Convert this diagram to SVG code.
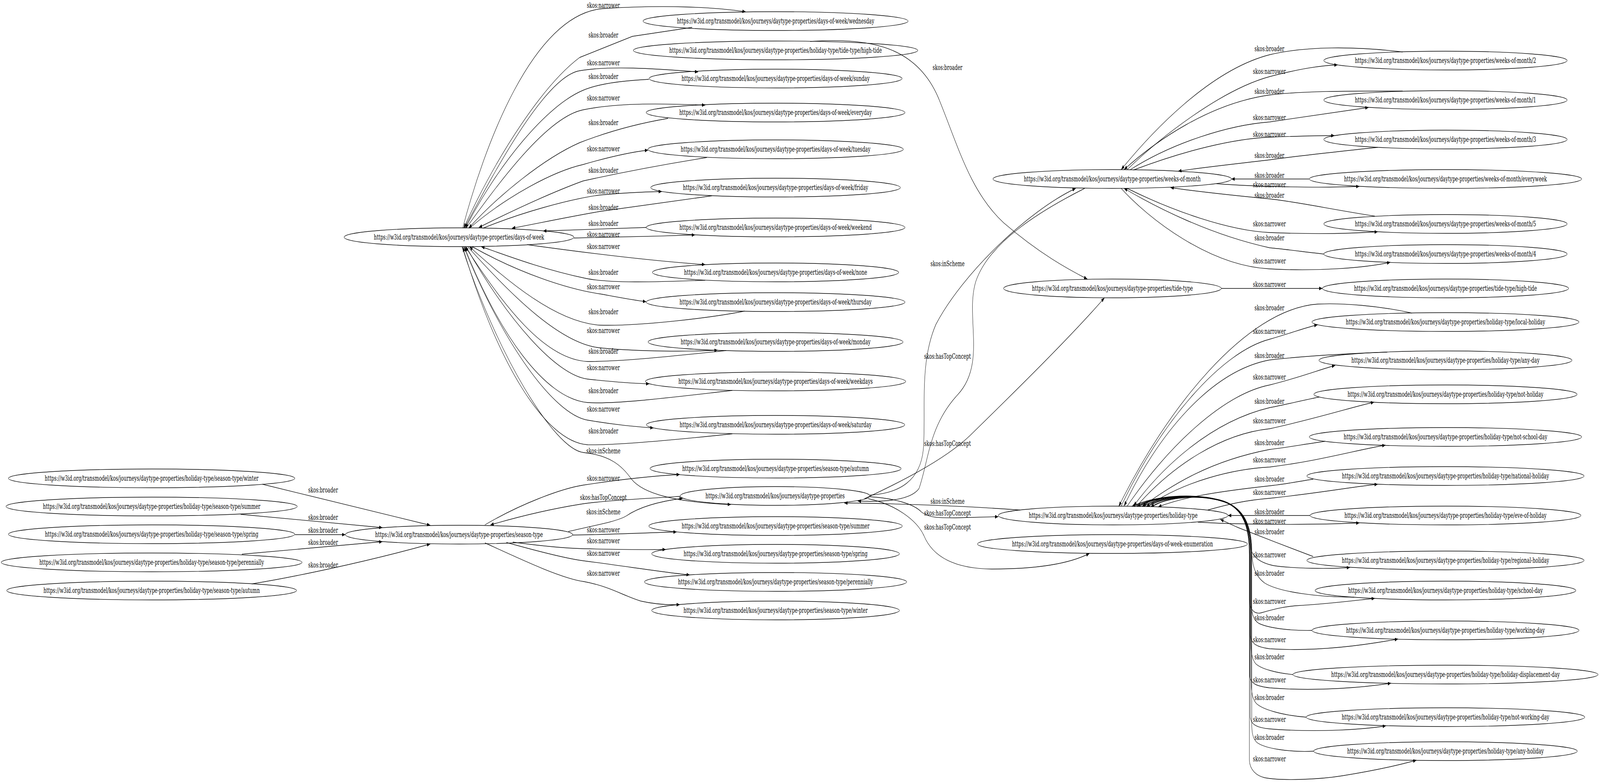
<svg xmlns="http://www.w3.org/2000/svg" width="6616" height="2006" viewBox="0 0 6616 2006" preserveAspectRatio="none" style="width:100%;height:100%">
<style>
.node ellipse{fill:none;stroke:#000;stroke-width:1.33}
text{font-family:"DejaVu Serif","Liberation Serif",serif;font-size:18.67px;text-anchor:middle;fill:#000}
#edges path{fill:none;stroke:#000;stroke-width:1.33;marker-end:url(#arr)}
</style>
<defs>
<marker id="arr" markerUnits="userSpaceOnUse" markerWidth="14" markerHeight="10" refX="13.3" refY="4.67" orient="auto"><path d="M0,0 L13.3,4.67 L0,9.33 z" fill="#000"/></marker>
</defs>
<rect width="6616" height="2006" fill="#fff"/>

<g id="edges">
<!-- season-type children -> season-type -->
<path d="M1085,1239 L1779,1344"/>
<path d="M995,1316 L1581,1350"/>
<path d="M1220,1368 L1428,1368"/>
<path d="M1000,1418 L1581,1386"/>
<path d="M1041,1494 C1200,1478 1500,1440 1779,1392"/>
<text x="1336" y="1260">skos:broader</text>
<text x="1336" y="1330">skos:broader</text>
<text x="1336" y="1363">skos:broader</text>
<text x="1336" y="1394">skos:broader</text>
<text x="1336" y="1452">skos:broader</text>

<!-- days-of-week <-> children -->
<path d="M1913,584 C2000,380 2200,35 2495,22 C2750,12 2950,18 3083,30"/>
<path d="M2862,70 L2615,93 L2397,147 C2250,215 2060,390 1917,584"/>
<path d="M1920,584 C2060,420 2260,195 2397,181 C2520,168 2700,175 2887,184"/>
<path d="M2683,203 C2550,207 2460,218 2411,231 C2260,270 2060,420 1924,584"/>
<path d="M1927,584 C2060,470 2260,300 2411,281 C2560,262 2750,265 2916,269"/>
<path d="M2762,303 C2600,320 2480,345 2397,365 C2250,405 2060,500 1938,584"/>
<path d="M1941,584 C2100,500 2290,438 2411,421 C2500,405 2600,390 2680,384"/>
<path d="M2923,403 C2700,425 2520,448 2411,463 C2270,495 2100,545 1980,582"/>
<path d="M1997,584 C2150,545 2350,510 2481,499 C2580,493 2660,491 2737,490"/>
<path d="M2944,501 C2750,518 2580,533 2481,541 C2350,555 2220,572 2117,584"/>
<path d="M2673,582 L2246,591"/>
<path d="M2373,609 C2500,608 2700,605 2874,601"/>
<path d="M2180,626 C2400,645 2700,668 2916,677"/>
<path d="M2916,717 C2700,722 2520,725 2420,712 C2250,690 2100,655 1990,631"/>
<path d="M1952,631 C2150,700 2350,740 2481,752 C2570,762 2620,768 2672,772"/>
<path d="M3079,796 C2950,812 2650,835 2481,832 C2300,825 2100,720 1941,631"/>
<path d="M1934,631 C2120,760 2320,880 2481,890 C2650,900 2850,900 2967,896"/>
<path d="M3003,897 C2800,910 2580,925 2430,925 C2250,920 2080,780 1924,631"/>
<path d="M1927,631 C2100,820 2300,960 2430,970 C2550,978 2620,981 2685,982"/>
<path d="M3028,999 C2800,1015 2550,1035 2430,1030 C2250,1020 2060,850 1920,631"/>
<path d="M1917,631 C2080,880 2290,1060 2430,1075 C2550,1088 2640,1092 2702,1095"/>
<path d="M3028,1110 C2800,1125 2550,1140 2430,1138 C2250,1130 2050,920 1913,631"/>
<path d="M1910,631 C2050,900 2290,1150 2414,1158 C2520,1165 2570,1190 2610,1225 C2660,1265 2800,1285 3022,1291"/>
<text x="2495" y="20">skos:narrower</text>
<text x="2495" y="96">skos:broader</text>
<text x="2495" y="167">skos:narrower</text>
<text x="2495" y="202">skos:broader</text>
<text x="2495" y="257">skos:narrower</text>
<text x="2495" y="320">skos:broader</text>
<text x="2495" y="387">skos:narrower</text>
<text x="2495" y="442">skos:broader</text>
<text x="2495" y="495">skos:narrower</text>
<text x="2495" y="537">skos:broader</text>
<text x="2495" y="578">skos:broader</text>
<text x="2495" y="606">skos:narrower</text>
<text x="2495" y="637">skos:narrower</text>
<text x="2495" y="703">skos:broader</text>
<text x="2495" y="740">skos:narrower</text>
<text x="2495" y="804">skos:broader</text>
<text x="2495" y="852">skos:narrower</text>
<text x="2495" y="905">skos:broader</text>
<text x="2495" y="947">skos:narrower</text>
<text x="2495" y="1006">skos:broader</text>
<text x="2495" y="1053">skos:narrower</text>
<text x="2495" y="1109">skos:broader</text>
<text x="2495" y="1160">skos:inScheme</text>

<!-- season-type edges -->
<path d="M2005,1343 C2150,1290 2320,1250 2414,1241 C2550,1228 2700,1218 2811,1214"/>
<path d="M2813,1270 C2650,1276 2480,1282 2401,1290 C2250,1305 2100,1330 2028,1343"/>
<path d="M2350,1360 C2450,1345 2550,1335 2590,1320 C2630,1303 2700,1285 2823,1275"/>
<path d="M2367,1369 C2500,1368 2650,1364 2798,1361"/>
<path d="M2120,1387 C2250,1398 2350,1403 2414,1404 C2550,1406 2650,1407 2753,1406"/>
<path d="M2094,1388 C2250,1415 2350,1430 2414,1435 C2600,1450 2750,1465 2852,1471"/>
<path d="M2005,1389 C2150,1430 2320,1480 2414,1488 C2520,1500 2580,1525 2650,1538 C2700,1545 2760,1548 2811,1547"/>
<text x="2495" y="1230">skos:narrower</text>
<text x="2495" y="1279">skos:hasTopConcept</text>
<text x="2495" y="1316">skos:inScheme</text>
<text x="2495" y="1362">skos:narrower</text>
<text x="2495" y="1390">skos:narrower</text>
<text x="2495" y="1422">skos:narrower</text>
<text x="2495" y="1473">skos:narrower</text>

<!-- properties / column C-D -->
<path d="M3350,106 C3600,95 3790,120 3880,250 C3960,370 4010,490 4150,570 C4300,650 4420,690 4496,714"/>
<path d="M3597,1267 C3720,1262 3805,1230 3818,1150 C3830,1050 3800,930 3870,830 C3980,700 4250,540 4448,482"/>
<path d="M4485,482 C4300,540 4090,620 4035,720 C3990,810 4080,930 3960,1010 C3840,1090 3840,1180 3800,1250 C3760,1285 3620,1284 3547,1282"/>
<path d="M3575,1276 C3700,1240 3900,1180 4010,1115 C4200,1000 4430,860 4567,762"/>
<path d="M4218,1305 C4000,1295 3700,1288 3491,1287"/>
<path d="M3597,1271 C3700,1275 3780,1290 3810,1310 C3840,1325 3880,1325 3950,1325 L4128,1322"/>
<path d="M3590,1276 C3700,1290 3790,1330 3820,1370 C3860,1430 3960,1455 4100,1456 C4300,1456 4430,1440 4505,1416"/>
<text x="3918" y="179">skos:broader</text>
<text x="3918" y="681">skos:inScheme</text>
<text x="3918" y="918">skos:hasTopConcept</text>
<text x="3918" y="1141">skos:hasTopConcept</text>
<text x="3918" y="1289">skos:inScheme</text>
<text x="3918" y="1319">skos:hasTopConcept</text>
<text x="3918" y="1355">skos:hasTopConcept</text>

<!-- weeks-of-month <-> children -->
<path d="M5800,133 C5600,118 5400,118 5250,140 C5000,180 4760,340 4636,434"/>
<path d="M4661,434 C4800,350 5050,230 5250,196 C5380,175 5460,168 5531,166"/>
<path d="M5800,233 C5600,233 5400,232 5250,243 C5000,265 4780,360 4648,434"/>
<path d="M4674,434 C4850,365 5080,320 5250,312 C5420,297 5570,282 5659,275"/>
<path d="M4687,435 C4900,385 5100,355 5250,351 C5380,348 5460,347 5518,347"/>
<path d="M5697,377 C5500,390 5350,400 5250,409 C5100,420 4950,430 4872,438"/>
<path d="M5413,458 L5092,458"/>
<path d="M5030,470 C5200,478 5450,481 5621,477"/>
<path d="M5685,553 C5500,535 5350,515 5250,509 C5100,500 4950,490 4840,480"/>
<path d="M4661,482 C4850,540 5080,590 5250,595 C5450,600 5600,597 5697,593"/>
<path d="M5474,650 C5400,645 5320,638 5250,634 C5000,600 4780,530 4648,482"/>
<path d="M4636,482 C4750,560 5000,680 5250,688 C5450,695 5650,685 5749,671"/>
<path d="M5050,738 L5468,738"/>
<text x="5249" y="131">skos:broader</text>
<text x="5249" y="189">skos:narrower</text>
<text x="5249" y="240">skos:broader</text>
<text x="5249" y="307">skos:narrower</text>
<text x="5249" y="350">skos:narrower</text>
<text x="5249" y="404">skos:broader</text>
<text x="5249" y="455">skos:broader</text>
<text x="5249" y="479">skos:narrower</text>
<text x="5249" y="506">skos:broader</text>
<text x="5249" y="579">skos:narrower</text>
<text x="5249" y="615">skos:broader</text>
<text x="5249" y="674">skos:narrower</text>
<text x="5249" y="734">skos:narrower</text>

<!-- holiday-type <-> children (upper) -->
<path d="M5838,801 C5700,782 5550,775 5450,778 C5150,790 4820,1050 4626,1296"/>
<path d="M4636,1295 C4800,1080 5050,900 5250,868 C5350,850 5400,838 5448,831"/>
<path d="M5736,901 C5550,905 5380,912 5250,921 C5000,950 4780,1120 4648,1295"/>
<path d="M4661,1295 C4820,1150 5050,1010 5250,985 C5380,965 5460,945 5521,935"/>
<path d="M5454,1016 C5380,1025 5320,1035 5250,1043 C5000,1080 4800,1200 4687,1295"/>
<path d="M4700,1295 C4850,1190 5050,1110 5250,1097 C5450,1070 5600,1040 5682,1029"/>
<path d="M5480,1129 C5380,1138 5320,1145 5250,1150 C5000,1180 4850,1240 4725,1295"/>
<path d="M4745,1295 C4900,1230 5100,1200 5250,1195 C5450,1180 5620,1150 5729,1139"/>
<path d="M5430,1226 C5350,1234 5300,1240 5250,1243 C5000,1260 4880,1275 4789,1297"/>
<path d="M4994,1305 C5080,1290 5150,1280 5250,1275 C5450,1262 5600,1245 5697,1239"/>
<path d="M5417,1319 L5078,1319"/>
<path d="M4953,1336 C5100,1342 5400,1344 5621,1338"/>
<!-- holiday-type <-> children (lower, bundled) -->
<path d="M5430,1424 C5350,1405 5200,1370 5120,1350 C5090,1342 5070,1336 5046,1329"/>
<path d="M4690,1296 C4750,1270 4940,1258 5060,1282 C5140,1300 5170,1345 5172,1400 C5174,1420 5200,1438 5264,1447 C5350,1455 5500,1456 5582,1452"/>
<path d="M5600,1528 C5450,1528 5290,1515 5230,1492 C5185,1472 5176,1440 5176,1405 C5174,1345 5145,1302 5065,1284 C4950,1260 4770,1268 4680,1296"/>
<path d="M4700,1296 C4760,1270 4950,1260 5062,1284 C5142,1302 5166,1350 5166,1420 L5166,1535 C5168,1562 5190,1572 5215,1568 C5260,1560 5300,1553 5356,1550 C5500,1545 5620,1535 5685,1531"/>
<path d="M5425,1613 C5340,1614 5250,1608 5205,1595 C5180,1585 5174,1565 5174,1540 L5174,1410 C5172,1345 5142,1303 5064,1284 C4950,1262 4790,1266 4702,1296"/>
<path d="M4712,1296 C4770,1270 4950,1260 5062,1284 C5142,1302 5170,1350 5170,1420 L5170,1625 C5172,1648 5200,1656 5250,1660 C5450,1668 5650,1650 5781,1635"/>
<path d="M5346,1726 C5280,1722 5215,1712 5192,1698 C5176,1686 5172,1665 5172,1640 L5172,1410 C5170,1345 5140,1302 5062,1283 C4950,1262 4800,1268 4722,1296"/>
<path d="M4730,1296 C4785,1272 4950,1262 5062,1284 C5142,1302 5168,1350 5168,1420 L5168,1730 C5170,1750 5200,1756 5250,1760 C5450,1770 5650,1758 5752,1748"/>
<path d="M5401,1835 C5300,1830 5220,1815 5195,1800 C5178,1788 5174,1770 5174,1745 L5174,1410 C5172,1345 5142,1303 5064,1284 C4960,1262 4820,1268 4740,1296"/>
<path d="M4750,1296 C4800,1272 4955,1262 5064,1284 C5144,1302 5170,1350 5170,1420 L5170,1835 C5172,1855 5200,1862 5250,1865 C5450,1875 5650,1866 5731,1857"/>
<path d="M5432,1922 C5330,1925 5230,1915 5198,1900 C5180,1890 5176,1875 5176,1850 L5176,1410 C5174,1345 5144,1303 5066,1284 C4960,1262 4830,1270 4758,1297"/>
<path d="M4765,1297 C4815,1273 4960,1263 5066,1285 C5146,1303 5166,1350 5166,1420 L5166,1945 C5168,1970 5195,1985 5230,1990 C5300,1998 5450,1995 5550,1985 C5700,1970 5800,1955 5857,1945"/>
<text x="5249" y="794">skos:broader</text>
<text x="5249" y="854">skos:narrower</text>
<text x="5249" y="916">skos:broader</text>
<text x="5249" y="971">skos:narrower</text>
<text x="5249" y="1033">skos:broader</text>
<text x="5249" y="1083">skos:narrower</text>
<text x="5249" y="1139">skos:broader</text>
<text x="5249" y="1183">skos:narrower</text>
<text x="5249" y="1232">skos:broader</text>
<text x="5249" y="1266">skos:narrower</text>
<text x="5249" y="1316">skos:broader</text>
<text x="5249" y="1340">skos:narrower</text>
<text x="5249" y="1367">skos:broader</text>
<text x="5249" y="1426">skos:narrower</text>
<text x="5249" y="1473">skos:broader</text>
<text x="5249" y="1545">skos:narrower</text>
<text x="5249" y="1587">skos:broader</text>
<text x="5249" y="1643">skos:narrower</text>
<text x="5249" y="1687">skos:broader</text>
<text x="5249" y="1746">skos:narrower</text>
<text x="5249" y="1791">skos:broader</text>
<text x="5249" y="1847">skos:narrower</text>
<text x="5249" y="1893">skos:broader</text>
<text x="5249" y="1948">skos:narrower</text>
</g>

<!-- column A -->
<g id="n-ht-season-winter" class="node"><ellipse cx="627" cy="1224" rx="592" ry="24"/><text x="627" y="1230">https://w3id.org/transmodel/kos/journeys/daytype-properties/holiday-type/season-type/winter</text></g>
<g id="n-ht-season-summer" class="node"><ellipse cx="627" cy="1296" rx="602" ry="24"/><text x="627" y="1302">https://w3id.org/transmodel/kos/journeys/daytype-properties/holiday-type/season-type/summer</text></g>
<g id="n-ht-season-spring" class="node"><ellipse cx="627" cy="1367" rx="592" ry="24"/><text x="627" y="1373">https://w3id.org/transmodel/kos/journeys/daytype-properties/holiday-type/season-type/spring</text></g>
<g id="n-ht-season-perennially" class="node"><ellipse cx="627" cy="1439" rx="622" ry="24"/><text x="627" y="1445">https://w3id.org/transmodel/kos/journeys/daytype-properties/holiday-type/season-type/perennially</text></g>
<g id="n-ht-season-autumn" class="node"><ellipse cx="627" cy="1511" rx="599" ry="24"/><text x="627" y="1517">https://w3id.org/transmodel/kos/journeys/daytype-properties/holiday-type/season-type/autumn</text></g>

<!-- column B -->
<g id="n-days-of-week" class="node"><ellipse cx="1898" cy="607" rx="475" ry="24"/><text x="1898" y="613">https://w3id.org/transmodel/kos/journeys/daytype-properties/days-of-week</text></g>
<g id="n-season-type" class="node"><ellipse cx="1898" cy="1368" rx="470" ry="24"/><text x="1898" y="1374">https://w3id.org/transmodel/kos/journeys/daytype-properties/season-type</text></g>

<!-- column C -->
<g id="n-dow-wednesday" class="node"><ellipse cx="3207" cy="54" rx="548" ry="24"/><text x="3207" y="60">https://w3id.org/transmodel/kos/journeys/daytype-properties/days-of-week/wednesday</text></g>
<g id="n-ht-tide-high-tide" class="node"><ellipse cx="3207" cy="129" rx="588" ry="24"/><text x="3207" y="135">https://w3id.org/transmodel/kos/journeys/daytype-properties/holiday-type/tide-type/high-tide</text></g>
<g id="n-dow-sunday" class="node"><ellipse cx="3207" cy="201" rx="523" ry="24"/><text x="3207" y="207">https://w3id.org/transmodel/kos/journeys/daytype-properties/days-of-week/sunday</text></g>
<g id="n-dow-everyday" class="node"><ellipse cx="3207" cy="288" rx="535" ry="24"/><text x="3207" y="294">https://w3id.org/transmodel/kos/journeys/daytype-properties/days-of-week/everyday</text></g>
<g id="n-dow-tuesday" class="node"><ellipse cx="3207" cy="382" rx="528" ry="24"/><text x="3207" y="388">https://w3id.org/transmodel/kos/journeys/daytype-properties/days-of-week/tuesday</text></g>
<g id="n-dow-friday" class="node"><ellipse cx="3207" cy="480" rx="516" ry="24"/><text x="3207" y="486">https://w3id.org/transmodel/kos/journeys/daytype-properties/days-of-week/friday</text></g>
<g id="n-dow-weekend" class="node"><ellipse cx="3207" cy="582" rx="535" ry="24"/><text x="3207" y="588">https://w3id.org/transmodel/kos/journeys/daytype-properties/days-of-week/weekend</text></g>
<g id="n-dow-none" class="node"><ellipse cx="3207" cy="697" rx="509" ry="24"/><text x="3207" y="703">https://w3id.org/transmodel/kos/journeys/daytype-properties/days-of-week/none</text></g>
<g id="n-dow-thursday" class="node"><ellipse cx="3207" cy="773" rx="535" ry="24"/><text x="3207" y="779">https://w3id.org/transmodel/kos/journeys/daytype-properties/days-of-week/thursday</text></g>
<g id="n-dow-monday" class="node"><ellipse cx="3207" cy="875" rx="527" ry="24"/><text x="3207" y="881">https://w3id.org/transmodel/kos/journeys/daytype-properties/days-of-week/monday</text></g>
<g id="n-dow-weekdays" class="node"><ellipse cx="3207" cy="976" rx="538" ry="24"/><text x="3207" y="982">https://w3id.org/transmodel/kos/journeys/daytype-properties/days-of-week/weekdays</text></g>
<g id="n-dow-saturday" class="node"><ellipse cx="3207" cy="1087" rx="534" ry="24"/><text x="3207" y="1093">https://w3id.org/transmodel/kos/journeys/daytype-properties/days-of-week/saturday</text></g>
<g id="n-season-autumn" class="node"><ellipse cx="3207" cy="1199" rx="519" ry="24"/><text x="3207" y="1205">https://w3id.org/transmodel/kos/journeys/daytype-properties/season-type/autumn</text></g>
<g id="n-properties" class="node"><ellipse cx="3205" cy="1269" rx="392" ry="24"/><text x="3205" y="1275">https://w3id.org/transmodel/kos/journeys/daytype-properties</text></g>
<g id="n-season-summer" class="node"><ellipse cx="3207" cy="1346" rx="524" ry="24"/><text x="3207" y="1352">https://w3id.org/transmodel/kos/journeys/daytype-properties/season-type/summer</text></g>
<g id="n-season-spring" class="node"><ellipse cx="3207" cy="1417" rx="512" ry="24"/><text x="3207" y="1423">https://w3id.org/transmodel/kos/journeys/daytype-properties/season-type/spring</text></g>
<g id="n-season-perennially" class="node"><ellipse cx="3207" cy="1489" rx="542" ry="24"/><text x="3207" y="1495">https://w3id.org/transmodel/kos/journeys/daytype-properties/season-type/perennially</text></g>
<g id="n-season-winter" class="node"><ellipse cx="3207" cy="1562" rx="512" ry="24"/><text x="3207" y="1568">https://w3id.org/transmodel/kos/journeys/daytype-properties/season-type/winter</text></g>

<!-- column D -->
<g id="n-weeks-of-month" class="node"><ellipse cx="4599" cy="458" rx="493" ry="24"/><text x="4599" y="464">https://w3id.org/transmodel/kos/journeys/daytype-properties/weeks-of-month</text></g>
<g id="n-tide-type" class="node"><ellipse cx="4600" cy="738" rx="450" ry="24"/><text x="4600" y="744">https://w3id.org/transmodel/kos/journeys/daytype-properties/tide-type</text></g>
<g id="n-holiday-type" class="node"><ellipse cx="4603" cy="1319" rx="475" ry="24"/><text x="4603" y="1325">https://w3id.org/transmodel/kos/journeys/daytype-properties/holiday-type</text></g>
<g id="n-dow-enumeration" class="node"><ellipse cx="4600" cy="1392" rx="558" ry="24"/><text x="4600" y="1398">https://w3id.org/transmodel/kos/journeys/daytype-properties/days-of-week-enumeration</text></g>

<!-- column E -->
<g id="n-wom-2" class="node"><ellipse cx="5977" cy="155" rx="503" ry="24"/><text x="5977" y="161">https://w3id.org/transmodel/kos/journeys/daytype-properties/weeks-of-month/2</text></g>
<g id="n-wom-1" class="node"><ellipse cx="5977" cy="256" rx="503" ry="24"/><text x="5977" y="262">https://w3id.org/transmodel/kos/journeys/daytype-properties/weeks-of-month/1</text></g>
<g id="n-wom-3" class="node"><ellipse cx="5977" cy="357" rx="503" ry="24"/><text x="5977" y="363">https://w3id.org/transmodel/kos/journeys/daytype-properties/weeks-of-month/3</text></g>
<g id="n-wom-everyweek" class="node"><ellipse cx="5977" cy="458" rx="563" ry="24"/><text x="5977" y="464">https://w3id.org/transmodel/kos/journeys/daytype-properties/weeks-of-month/everyweek</text></g>
<g id="n-wom-5" class="node"><ellipse cx="5977" cy="573" rx="503" ry="24"/><text x="5977" y="579">https://w3id.org/transmodel/kos/journeys/daytype-properties/weeks-of-month/5</text></g>
<g id="n-wom-4" class="node"><ellipse cx="5977" cy="650" rx="503" ry="24"/><text x="5977" y="656">https://w3id.org/transmodel/kos/journeys/daytype-properties/weeks-of-month/4</text></g>
<g id="n-tide-high-tide" class="node"><ellipse cx="5977" cy="738" rx="509" ry="24"/><text x="5977" y="744">https://w3id.org/transmodel/kos/journeys/daytype-properties/tide-type/high-tide</text></g>
<g id="n-ht-local-holiday" class="node"><ellipse cx="5977" cy="824" rx="552" ry="24"/><text x="5977" y="830">https://w3id.org/transmodel/kos/journeys/daytype-properties/holiday-type/local-holiday</text></g>
<g id="n-ht-any-day" class="node"><ellipse cx="5977" cy="922" rx="523" ry="24"/><text x="5977" y="928">https://w3id.org/transmodel/kos/journeys/daytype-properties/holiday-type/any-day</text></g>
<g id="n-ht-not-holiday" class="node"><ellipse cx="5977" cy="1009" rx="544" ry="24"/><text x="5977" y="1015">https://w3id.org/transmodel/kos/journeys/daytype-properties/holiday-type/not-holiday</text></g>
<g id="n-ht-not-school-day" class="node"><ellipse cx="5977" cy="1118" rx="563" ry="24"/><text x="5977" y="1124">https://w3id.org/transmodel/kos/journeys/daytype-properties/holiday-type/not-school-day</text></g>
<g id="n-ht-national-holiday" class="node"><ellipse cx="5977" cy="1218" rx="573" ry="24"/><text x="5977" y="1224">https://w3id.org/transmodel/kos/journeys/daytype-properties/holiday-type/national-holiday</text></g>
<g id="n-ht-eve-of-holiday" class="node"><ellipse cx="5977" cy="1319" rx="560" ry="24"/><text x="5977" y="1325">https://w3id.org/transmodel/kos/journeys/daytype-properties/holiday-type/eve-of-holiday</text></g>
<g id="n-ht-regional-holiday" class="node"><ellipse cx="5977" cy="1434" rx="573" ry="24"/><text x="5977" y="1440">https://w3id.org/transmodel/kos/journeys/daytype-properties/holiday-type/regional-holiday</text></g>
<g id="n-ht-school-day" class="node"><ellipse cx="5977" cy="1511" rx="539" ry="24"/><text x="5977" y="1517">https://w3id.org/transmodel/kos/journeys/daytype-properties/holiday-type/school-day</text></g>
<g id="n-ht-working-day" class="node"><ellipse cx="5977" cy="1613" rx="552" ry="24"/><text x="5977" y="1619">https://w3id.org/transmodel/kos/journeys/daytype-properties/holiday-type/working-day</text></g>
<g id="n-ht-holiday-displacement-day" class="node"><ellipse cx="5977" cy="1726" rx="631" ry="24"/><text x="5977" y="1732">https://w3id.org/transmodel/kos/journeys/daytype-properties/holiday-type/holiday-displacement-day</text></g>
<g id="n-ht-not-working-day" class="node"><ellipse cx="5977" cy="1835" rx="576" ry="24"/><text x="5977" y="1841">https://w3id.org/transmodel/kos/journeys/daytype-properties/holiday-type/not-working-day</text></g>
<g id="n-ht-any-holiday" class="node"><ellipse cx="5977" cy="1922" rx="545" ry="24"/><text x="5977" y="1928">https://w3id.org/transmodel/kos/journeys/daytype-properties/holiday-type/any-holiday</text></g>
</svg>
